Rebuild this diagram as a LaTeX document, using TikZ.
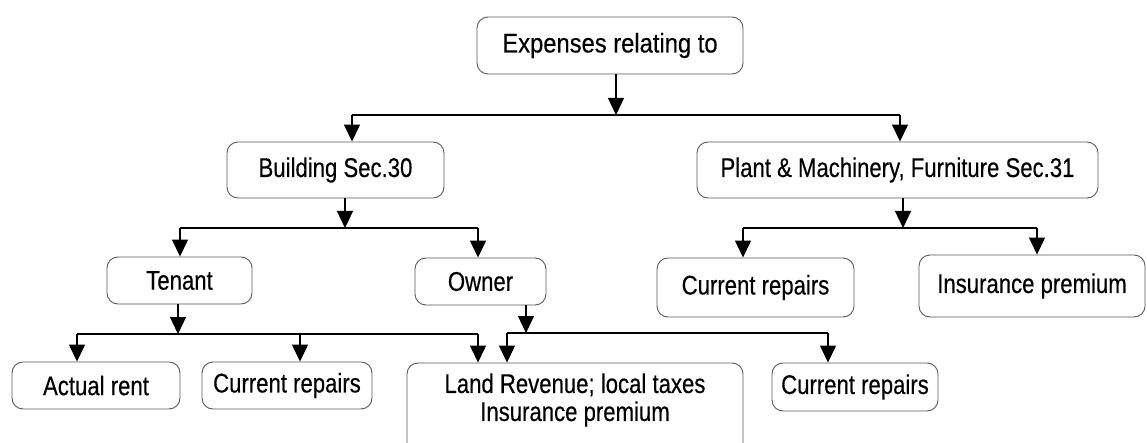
\documentclass[tikz,border=0pt]{standalone}
\usepackage{fontspec}
\setmainfont{Liberation Sans}[FakeStretch=0.82,FakeBold=0.35]
\newfontfamily\topfont{Liberation Sans}[FakeStretch=0.88,FakeBold=0.35]
\usetikzlibrary{arrows.meta}
\begin{document}
\begin{tikzpicture}[x=1pt,y=-1pt,
  box/.style={draw=black!65, line width=0.9pt, rounded corners=11pt,
    inner sep=0pt, font=\fontsize{27}{28}\selectfont, align=center},
  stem/.style={line width=1.3pt, -{Triangle[width=16pt,length=17pt]}},
  bus/.style={line width=2.7pt}]
\useasboundingbox (0,0) rectangle (1147,443);
\clip (0,0) rectangle (1147,443);

% top level
\node[box, font=\topfont\fontsize{27}{28}\selectfont, minimum width=266pt, minimum height=57pt] (exp) at (610,45.5) {Expenses relating to};

% second level
\node[box, minimum width=217pt, minimum height=56pt] (bld) at (335.5,170) {Building Sec.30};
\node[box, minimum width=401pt, minimum height=56pt] (plant) at (897.5,170) {Plant \& Machinery, Furniture Sec.31};

% third level
\node[box, minimum width=145pt, minimum height=47pt] (ten) at (179.5,280.5) {Tenant};
\node[box, minimum width=131pt, minimum height=47pt] (own) at (480.5,281.5) {Owner};
\node[box, minimum width=197pt, minimum height=59pt] (crp) at (755.5,287.5) {Current repairs};
\node[box, minimum width=226pt, minimum height=62pt] (ins) at (1032,286) {Insurance premium};

% bottom level
\node[box, minimum width=168pt, minimum height=47pt] (rent) at (96,385.5) {Actual rent};
\node[box, minimum width=170pt, minimum height=47pt] (crm) at (287,385.5) {Current repairs};
\node[box, minimum width=336pt, minimum height=97pt] (land) at (575,411.5) {};
\node[font=\fontsize{27}{28}\selectfont, align=center, inner sep=0pt] (landtxt) at (575,400) {Land Revenue; local taxes\\Insurance premium};
\node[box, minimum width=166pt, minimum height=48pt] (crr) at (855,387) {Current repairs};

% Expenses -> Building / Plant
\coordinate (j0) at (616,115);
\coordinate (b0l) at (352,115);
\coordinate (b0r) at (900,115);
\draw[stem] (exp.south -| j0) -- (j0);
\draw[bus] (b0l) -- (b0r);
\draw[stem] (b0l) -- (b0l |- bld.north);
\draw[stem] (b0r) -- (b0r |- plant.north);

% Building -> Tenant / Owner
\coordinate (j1) at (345,228);
\coordinate (b1l) at (180,228);
\coordinate (b1r) at (478,228);
\draw[stem] (bld.south -| j1) -- (j1);
\draw[bus] (b1l) -- (b1r);
\draw[stem] (b1l) -- (b1l |- ten.north);
\draw[stem] (b1r) -- (b1r |- own.north);

% Plant -> Current repairs / Insurance premium
\coordinate (j2) at (903,228);
\coordinate (b2l) at (743,228);
\coordinate (b2r) at (1037,228);
\draw[stem] (plant.south -| j2) -- (j2);
\draw[bus] (b2l) -- (b2r);
\draw[stem] (b2l) -- (b2l |- crp.north);
\draw[stem] (b2r) -- (b2r |- ins.north);

% Tenant -> Actual rent / Current repairs / Land revenue
\coordinate (j3) at (178,334);
\coordinate (b3l) at (77,334);
\coordinate (b3m) at (300,334);
\coordinate (b3r) at (478,334);
\draw[stem] (ten.south -| j3) -- (j3);
\draw[bus] (b3l) -- (b3r);
\draw[stem] (b3l) -- (b3l |- rent.north);
\draw[stem] (b3m) -- (b3m |- crm.north);
\draw[stem] (b3r) -- (b3r |- land.north);

% Owner -> Land revenue / Current repairs
\coordinate (j4) at (526,333);
\coordinate (b4l) at (507,333);
\coordinate (b4r) at (828,333);
\draw[stem] (own.south -| j4) -- (j4);
\draw[bus] (b4l) -- (b4r);
\draw[stem] (b4l) -- (b4l |- land.north);
\draw[stem] (b4r) -- (b4r |- crr.north);
\end{tikzpicture}
\end{document}
